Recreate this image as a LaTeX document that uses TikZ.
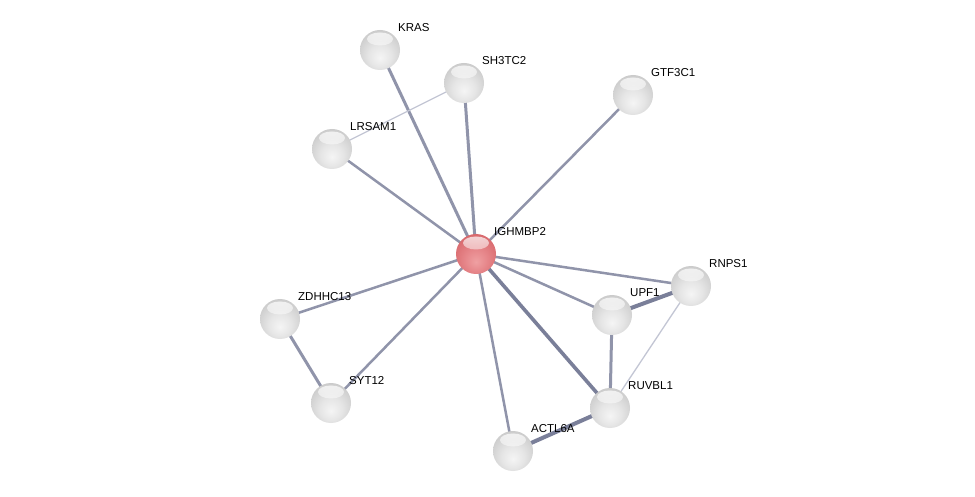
\documentclass[tikz,border=0pt]{standalone}
\usepackage{fontspec}
\setmainfont{Liberation Sans}
\usetikzlibrary{backgrounds,fadings}
\definecolor{edgec}{HTML}{9094AA}
\definecolor{edged}{HTML}{7A7F99}
\definecolor{edgel}{HTML}{C3C6D4}
\definecolor{ra}{HTML}{EFA0A2}
\definecolor{rb}{HTML}{E6868A}
\definecolor{rc}{HTML}{D96A6E}
\definecolor{rd}{HTML}{C5565C}
\definecolor{re}{HTML}{A63A41}
\definecolor{rf}{HTML}{8A2C32}
\pgfdeclareradialshading{greyball}{\pgfpoint{0bp}{-10bp}}{color(0bp)=(black!4); color(14bp)=(black!10); color(30bp)=(black!20); color(44bp)=(black!31); color(52bp)=(black!46); color(58bp)=(black!58); color(66bp)=(black!58)}
\pgfdeclareradialshading{redball}{\pgfpoint{0bp}{-10bp}}{color(0bp)=(ra); color(14bp)=(rb); color(30bp)=(rc); color(44bp)=(rd); color(52bp)=(re); color(58bp)=(rf); color(66bp)=(rf)}
\tikzfading[name=hlfade, top color=transparent!25, bottom color=transparent!100]
\tikzset{
  ballbase/.style={circle, minimum size=40pt, inner sep=0pt, draw=none,
    path picture={\fill[white, path fading=hlfade] ([yshift=11pt]path picture bounding box.center) ellipse (13pt and 6.5pt);}},
  gball/.style={ballbase, shading=greyball},
  rball/.style={ballbase, shading=redball},
  lbl/.style={anchor=west, inner sep=0pt, font=\fontsize{11.5}{13}\selectfont},
  e/.style={edgec, line width=2.5pt},
  ed/.style={edged, line width=3.6pt},
  el/.style={edgel, line width=1.3pt}
}
\begin{document}
\begin{tikzpicture}[x=1pt,y=1pt]
\useasboundingbox (0,0) rectangle (975,496);
\node[gball] (KRAS) at (380,446) {};
\node[gball] (SH3TC2) at (464,413) {};
\node[gball] (GTF3C1) at (633,401) {};
\node[gball] (LRSAM1) at (332,347) {};
\node[rball] (IGHMBP2) at (476,242) {};
\node[gball] (RNPS1) at (691,210) {};
\node[gball] (UPF1) at (612,181) {};
\node[gball] (ZDHHC13) at (280,177) {};
\node[gball] (SYT12) at (331,93) {};
\node[gball] (RUVBL1) at (610,88) {};
\node[gball] (ACTL6A) at (513,45) {};
\begin{scope}[on background layer]
\fill[white] (0,0) rectangle (975,496);
\draw[e, line width=3pt] (IGHMBP2.center) -- (KRAS.center);
\draw[e, line width=3pt] (IGHMBP2.center) -- (SH3TC2.center);
\draw[e] (IGHMBP2.center) -- (GTF3C1.center);
\draw[e] (IGHMBP2.center) -- (LRSAM1.center);
\draw[e] (IGHMBP2.center) -- (ZDHHC13.center);
\draw[e] (IGHMBP2.center) -- (SYT12.center);
\draw[e] (IGHMBP2.center) -- (ACTL6A.center);
\draw[e] (IGHMBP2.center) -- (UPF1.center);
\draw[e] (IGHMBP2.center) -- (RNPS1.center);
\draw[ed] (IGHMBP2.center) -- (RUVBL1.center);
\draw[ed, line width=4pt] (ACTL6A.center) -- (RUVBL1.center);
\draw[ed, line width=4pt] (UPF1.center) -- (RNPS1.center);
\draw[e, line width=3pt] (UPF1.center) -- (RUVBL1.center);
\draw[e, line width=3pt] (ZDHHC13.center) -- (SYT12.center);
\draw[el] (SH3TC2.center) -- (LRSAM1.center);
\draw[el] (RNPS1.center) -- (RUVBL1.center);
\end{scope}
\node[lbl] (tKRAS) at ([xshift=18pt,yshift=22pt]KRAS.center) {KRAS};
\node[lbl] (tSH3TC2) at ([xshift=18pt,yshift=22pt]SH3TC2.center) {SH3TC2};
\node[lbl] (tGTF3C1) at ([xshift=18pt,yshift=22pt]GTF3C1.center) {GTF3C1};
\node[lbl] (tLRSAM1) at ([xshift=18pt,yshift=22pt]LRSAM1.center) {LRSAM1};
\node[lbl] (tIGHMBP2) at ([xshift=18pt,yshift=22pt]IGHMBP2.center) {IGHMBP2};
\node[lbl] (tRNPS1) at ([xshift=18pt,yshift=22pt]RNPS1.center) {RNPS1};
\node[lbl] (tUPF1) at ([xshift=18pt,yshift=22pt]UPF1.center) {UPF1};
\node[lbl] (tZDHHC13) at ([xshift=18pt,yshift=22pt]ZDHHC13.center) {ZDHHC13};
\node[lbl] (tSYT12) at ([xshift=18pt,yshift=22pt]SYT12.center) {SYT12};
\node[lbl] (tRUVBL1) at ([xshift=18pt,yshift=22pt]RUVBL1.center) {RUVBL1};
\node[lbl] (tACTL6A) at ([xshift=18pt,yshift=22pt]ACTL6A.center) {ACTL6A};
\end{tikzpicture}
\end{document}
